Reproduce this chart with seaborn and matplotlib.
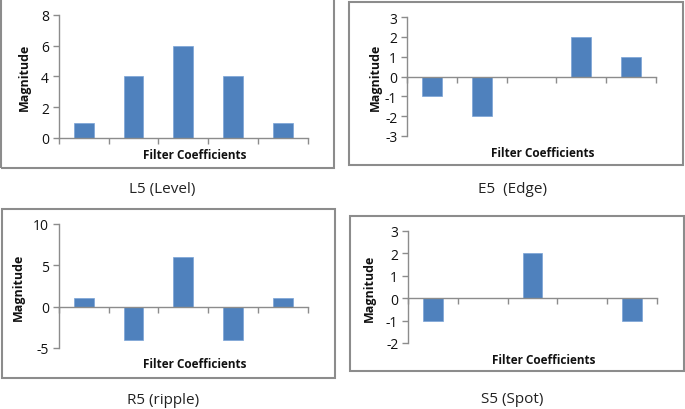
"""
Laws' 1-D filter kernels (L5, E5, R5, S5) drawn as four boxed Excel-style bar charts.
"""

import matplotlib

matplotlib.use("Agg")
import matplotlib.pyplot as plt
from matplotlib.patches import Rectangle
import seaborn as sns

sns.set_theme(style="white")
plt.rcParams["font.family"] = ["Open Sans", "DejaVu Sans"]

# ---------------------------------------------------------------------------
# Data
# ---------------------------------------------------------------------------
positions = [1, 2, 3, 4, 5]
level = [1, 4, 6, 4, 1]
edge = [-1, -2, 0, 2, 1]
ripple = [1, -4, 6, -4, 1]
spot = [-1, 0, 2, 0, -1]

titles = ["L5 (Level)", "E5  (Edge)", "R5 (ripple)", "S5 (Spot)"]
yticks = [[0, 2, 4, 6, 8], [-3, -2, -1, 0, 1, 2, 3], [-5, 0, 5, 10], [-2, -1, 0, 1, 2, 3]]

BAR = "#4F81BD"
AXIS = "#8C8C8C"
W, H = 685, 410

# pixel layout: axes (left, top, right, bottom), box, text anchors
panels = [
    dict(vals=level, ax=(58.7, 15.7, 308, 139), box=(1, -2, 334.3, 168.7),
         mag=(24, 77), fc=(195, 156), title=(162, 190)),
    dict(vals=edge, ax=(407, 18, 656, 137), box=(349.3, 2.7, 683.3, 166.3),
         mag=(375, 77), fc=(543, 154), title=(513, 190)),
    dict(vals=ripple, ax=(58.7, 225, 308, 349), box=(1.5, 210, 335, 379),
         mag=(18, 287), fc=(195, 365), title=(163, 401)),
    dict(vals=spot, ax=(408, 232, 657, 344), box=(350, 216.7, 684, 372.3),
         mag=(369, 288), fc=(544, 361), title=(512, 400)),
]


def fx(x):
    return x / W


def fy(y):
    return 1 - y / H


fig = plt.figure(figsize=(6.85, 4.10), dpi=100)

for p, title, ticks in zip(panels, titles, yticks):
    l, t, r, b = p["box"]
    fig.patches.append(
        Rectangle((fx(l), fy(b)), fx(r - l), (b - t) / H, transform=fig.transFigure,
                  fill=False, edgecolor=AXIS, linewidth=1.5, zorder=0)
    )

    l, t, r, b = p["ax"]
    ax = fig.add_axes([fx(l), fy(b), fx(r - l), (b - t) / H])
    ax.patch.set_alpha(0)
    sns.barplot(x=positions, y=p["vals"], ax=ax, color=BAR, width=0.4,
                saturation=1, edgecolor="#7aa3d6", linewidth=0.5)

    ax.set_xlim(-0.5, 4.5)
    ax.set_ylim(ticks[0], ticks[-1])
    ax.set_yticks(ticks)
    ax.set_yticklabels([str(v) for v in ticks], fontsize=10, color="#111111")
    ax.tick_params(axis="y", direction="out", length=4, width=1, color=AXIS, pad=3, left=True)

    # category axis sits on the zero line with ticks between the bars
    ax.set_xticks([-0.5, 0.5, 1.5, 2.5, 3.5, 4.5])
    ax.set_xticklabels([])
    ax.tick_params(axis="x", direction="out", length=4, width=1, color=AXIS, bottom=True)
    for side in ["top", "right"]:
        ax.spines[side].set_visible(False)
    ax.spines["left"].set_color(AXIS)
    ax.spines["left"].set_linewidth(1)
    ax.spines["bottom"].set_color(AXIS)
    ax.spines["bottom"].set_linewidth(1)
    ax.spines["bottom"].set_position(("data", 0))
    ax.set_xlabel("")
    ax.set_ylabel("")

    fig.text(fx(p["mag"][0]), fy(p["mag"][1]), "Magnitude", rotation=90, ha="center",
             va="center", fontsize=9, fontweight="bold", color="#111111")
    fig.text(fx(p["fc"][0]), fy(p["fc"][1]), "Filter Coefficients", ha="center",
             va="center", fontsize=8.5, fontweight="bold", color="#111111")
    fig.text(fx(p["title"][0]), fy(p["title"][1]), title, ha="center", va="center",
             fontsize=11, color="#222222")

fig.savefig("out.png", dpi=100, facecolor="white")
plt.close(fig)
